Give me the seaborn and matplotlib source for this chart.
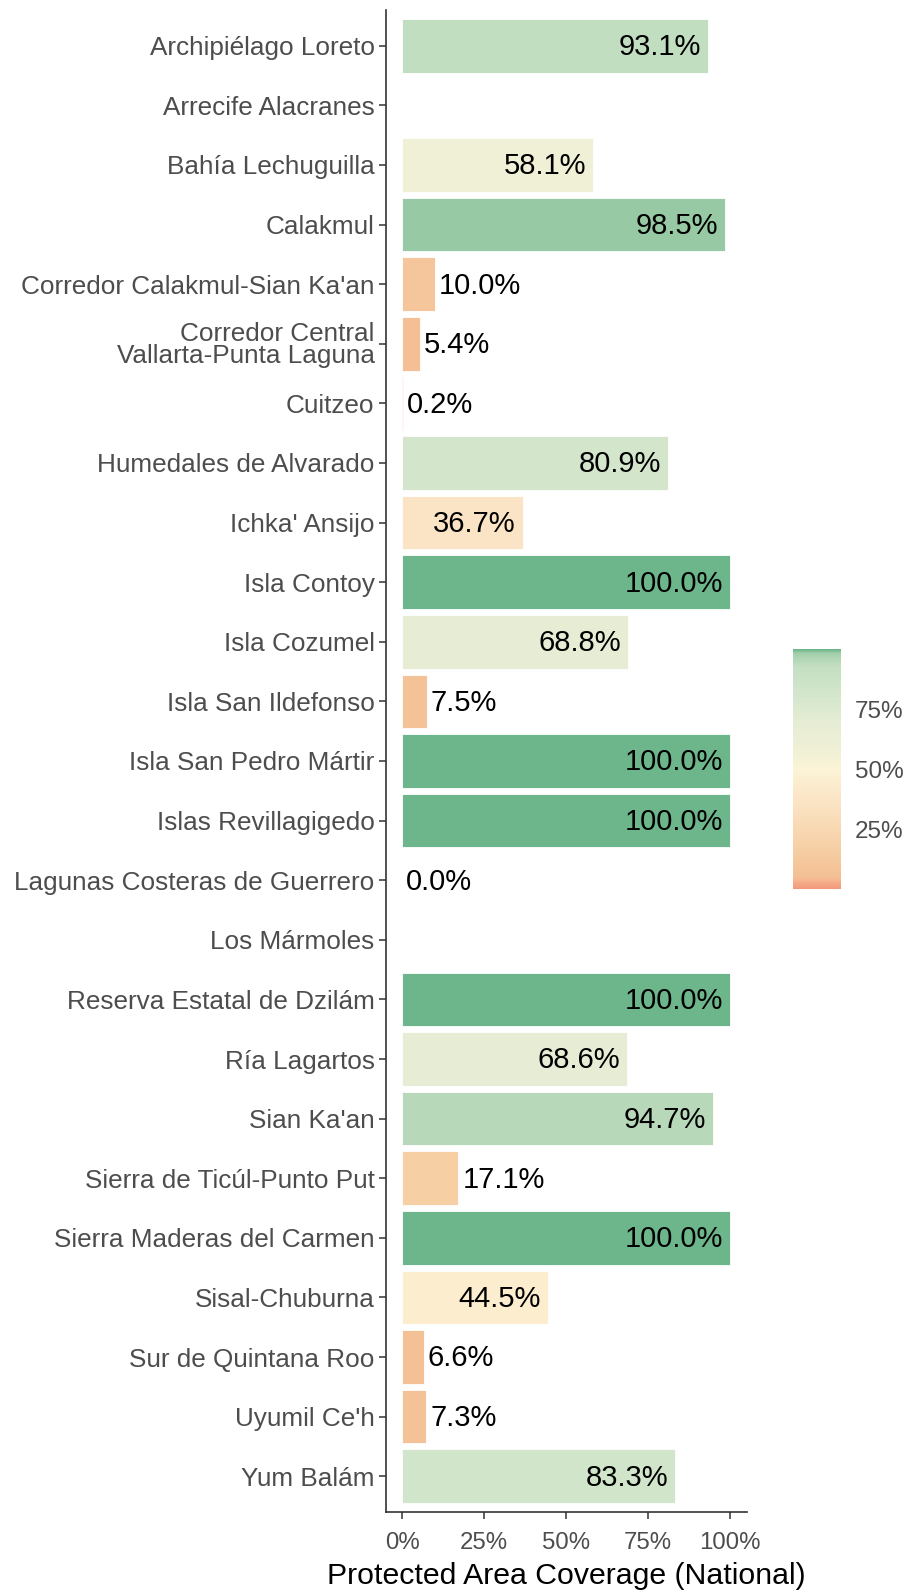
import numpy as np
import pandas as pd
import matplotlib
matplotlib.use("Agg")
import matplotlib.pyplot as plt
from matplotlib.colors import LinearSegmentedColormap, Normalize
import seaborn as sns

names = [
    "Archipiélago Loreto", "Arrecife Alacranes", "Bahía Lechuguilla", "Calakmul",
    "Corredor Calakmul-Sian Ka'an", "Corredor Central\nVallarta-Punta Laguna", "Cuitzeo",
    "Humedales de Alvarado", "Ichka' Ansijo", "Isla Contoy", "Isla Cozumel",
    "Isla San Ildefonso", "Isla San Pedro Mártir", "Islas Revillagigedo",
    "Lagunas Costeras de Guerrero", "Los Mármoles", "Reserva Estatal de Dzilám",
    "Ría Lagartos", "Sian Ka'an", "Sierra de Ticúl-Punto Put", "Sierra Maderas del Carmen",
    "Sisal-Chuburna", "Sur de Quintana Roo", "Uyumil Ce'h", "Yum Balám",
]
coverage = [
    0.931, np.nan, 0.581, 0.985, 0.100, 0.054, 0.002, 0.809, 0.367, 1.0, 0.688,
    0.075, 1.0, 1.0, 0.0, np.nan, 1.0, 0.686, 0.947, 0.171, 1.0, 0.445, 0.066,
    0.073, 0.833,
]
xticks = [0, 0.25, 0.5, 0.75, 1.0]
xticklabels = ["0%", "25%", "50%", "75%", "100%"]
cbar_ticks = [0.25, 0.5, 0.75]
cbar_ticklabels = ["25%", "50%", "75%"]

df = pd.DataFrame({"name": names, "coverage": coverage})

cmap = LinearSegmentedColormap.from_list("cov", [
    (0.0, "#f39a7e"), (0.05, "#f4bf94"), (0.17, "#f6cfa5"), (0.37, "#fbe5c6"),
    (0.5, "#fcf3d6"), (0.58, "#eff0d6"), (0.69, "#e6edd4"), (0.81, "#d3e6cc"),
    (0.93, "#c3dfc1"), (0.985, "#a3cfab"), (1.0, "#6db58a"),
])
norm = Normalize(0, 1)
palette = {n: (cmap(norm(v)) if not np.isnan(v) else (1, 1, 1, 0)) for n, v in zip(names, coverage)}

sns.set_theme(style="white")
plt.rcParams["font.family"] = ["Liberation Sans", "DejaVu Sans"]

fig = plt.figure(figsize=(9.11, 15.92), dpi=100)
ax = fig.add_axes([385.7 / 911, 80 / 1592, 361 / 911, 1502 / 1592])

sns.barplot(data=df, x="coverage", y="name", hue="name", order=names, hue_order=names,
            palette=palette, legend=False, width=0.9, saturation=1, orient="h",
            edgecolor="white", linewidth=0.6, ax=ax, errorbar=None)

ax.set_xlim(-0.05, 1.05)
ax.set_ylim(len(names) - 1 + 0.6, -0.6)

for i, v in enumerate(coverage):
    if np.isnan(v):
        continue
    lab = f"{v * 100:.1f}%"
    if v > 0.3:
        ax.annotate(lab, (v, i), xytext=(-5, -1), textcoords="offset points",
                    ha="right", va="center", fontsize=21, color="black")
    else:
        ax.annotate(lab, (v, i), xytext=(3, -1), textcoords="offset points",
                    ha="left", va="center", fontsize=21, color="black")

ax.set_xticks(xticks)
ax.set_xticklabels(xticklabels)
ax.set_ylabel("")
ax.set_xlabel("Protected Area Coverage (National)", fontsize=21.8, color="black", labelpad=6)
for s in ["top", "right"]:
    ax.spines[s].set_visible(False)
for s in ["left", "bottom"]:
    ax.spines[s].set_color("#333333")
    ax.spines[s].set_linewidth(1.2)
ax.tick_params(axis="both", which="major", length=5, width=1.1, color="#333333",
               labelcolor="#4d4d4d", left=True, bottom=True)
ax.tick_params(axis="x", labelsize=17.3, pad=9.5)
ax.tick_params(axis="y", labelsize=18.8, pad=3)
for t in ax.get_yticklabels():
    t.set_linespacing(0.9)

cax = fig.add_axes([792.7 / 911, (1592 - 889) / 1592, 48.3 / 911, 240 / 1592])
sm = matplotlib.cm.ScalarMappable(norm=norm, cmap=cmap)
cb = fig.colorbar(sm, cax=cax)
cb.outline.set_visible(False)
cb.set_ticks(cbar_ticks)
cb.set_ticklabels(cbar_ticklabels)
cax.tick_params(axis="y", left=True, right=True, direction="in", color="white",
                length=9, width=1.2, labelcolor="#4d4d4d", labelsize=17.5, pad=10)

fig.savefig("out.png", dpi=100)
